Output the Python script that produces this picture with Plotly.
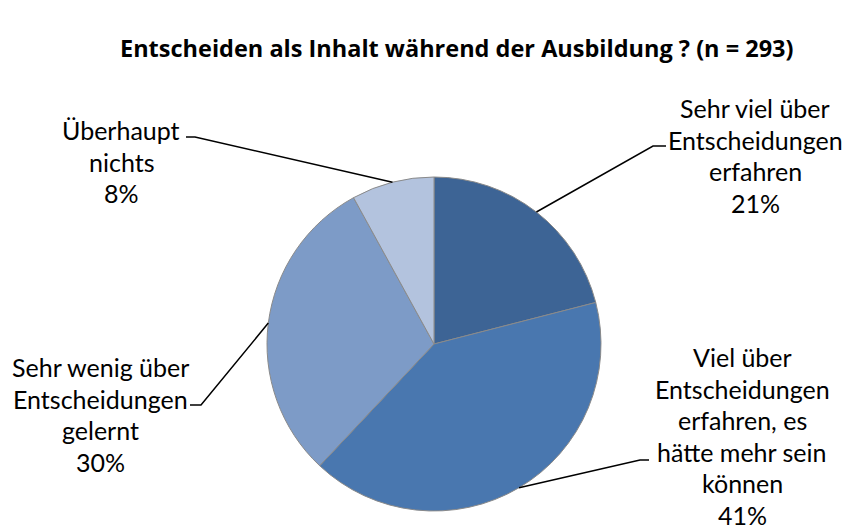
import math
import plotly.graph_objects as go

categories = [
    "Sehr viel über Entscheidungen erfahren",
    "Viel über Entscheidungen erfahren, es hätte mehr sein können",
    "Sehr wenig über Entscheidungen gelernt",
    "Überhaupt nichts",
]
label_lines = [
    ["Sehr viel über", "Entscheidungen", "erfahren"],
    ["Viel über", "Entscheidungen", "erfahren, es", "hätte mehr sein", "können"],
    ["Sehr wenig über", "Entscheidungen", "gelernt"],
    ["Überhaupt", "nichts"],
]
values = [21, 41, 30, 8]
colors = ["#3D6495", "#4977AF", "#7D9BC7", "#B3C3DE"]
title = "Entscheiden als Inhalt während der Ausbildung ? (n = 293)"

W, H = 845, 529
CX, CY, R = 434, 344, 167
FONT = "Lato"
FS = 25
LINE_H = 31.5

# label layout: (center x, first line y, elbow x, elbow y, end x)
label_pos = [
    (755, 108, 653, 146, 666),
    (742, 357, 640, 460, 649),
    (100, 367, 201, 405, 190),
    (121, 130, 195, 137, 186),
]

fig = go.Figure()
fig.add_trace(go.Pie(
    labels=categories, values=values, sort=False, direction="clockwise",
    rotation=0, marker=dict(colors=colors, line=dict(color="#8A8A8A", width=1)),
    textinfo="none", hoverinfo="label+percent", showlegend=False,
    domain=dict(x=[(CX - R) / W, (CX + R) / W], y=[(H - CY - R) / H, (H - CY + R) / H]),
))

total = sum(values)
cum = 0
shapes = []
annotations = []
for i, v in enumerate(values):
    mid = (cum + v / 2) / total * 2 * math.pi
    cum += v
    px = CX + R * math.sin(mid)
    py = CY - R * math.cos(mid)
    lx, ly, ex, ey, endx = label_pos[i]
    shapes.append(dict(type="path", xref="x", yref="y",
                       path=f"M {px:.1f},{py:.1f} L {ex},{ey} L {endx},{ey}",
                       line=dict(color="black", width=1.5)))
    lines = label_lines[i] + [f"{round(v / total * 100)}%"]
    for j, t in enumerate(lines):
        annotations.append(dict(x=lx, y=ly + j * LINE_H, xref="x", yref="y", text=t,
                                showarrow=False, xanchor="center", yanchor="middle",
                                font=dict(family=FONT, size=FS, color="black")))

annotations.append(dict(x=457, y=48, xref="x", yref="y", text=f"<b>{title}</b>",
                        showarrow=False, xanchor="center", yanchor="middle",
                        font=dict(family="Open Sans", size=23.5, color="black")))

fig.update_layout(
    width=W, height=H, margin=dict(l=0, r=0, t=0, b=0),
    paper_bgcolor="white", plot_bgcolor="rgba(0,0,0,0)",
    xaxis=dict(range=[0, W], visible=False, fixedrange=True),
    yaxis=dict(range=[H, 0], visible=False, fixedrange=True),
    shapes=shapes, annotations=annotations,
)
fig.write_html("out.html", config={"displayModeBar": False},
               post_script="document.body.style.margin='0';")
